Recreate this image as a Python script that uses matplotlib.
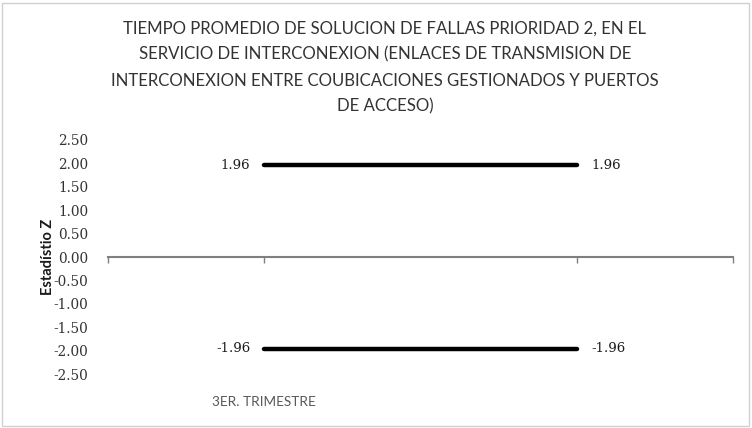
import matplotlib
matplotlib.use("Agg")
import matplotlib.pyplot as plt
from matplotlib.patches import Rectangle

categories = ["3ER. TRIMESTRE", ""]
upper_limit = [1.96, 1.96]
lower_limit = [-1.96, -1.96]
yticks = [2.5, 2.0, 1.5, 1.0, 0.5, 0.0, -0.5, -1.0, -1.5, -2.0, -2.5]

title = ("TIEMPO PROMEDIO DE SOLUCION DE FALLAS PRIORIDAD 2, EN EL\n"
         "SERVICIO DE INTERCONEXION (ENLACES DE TRANSMISION DE\n"
         "INTERCONEXION ENTRE COUBICACIONES GESTIONADOS Y PUERTOS\n"
         "DE ACCESO)")

fig = plt.figure(figsize=(7.52, 4.28), dpi=100)
ax = fig.add_axes([0.1436, 0.126, 0.8314, 0.547])
x = list(range(len(categories)))

ax.plot(x, upper_limit, color="black", lw=3.2, solid_capstyle="round")
ax.plot(x, lower_limit, color="black", lw=3.2, solid_capstyle="round")

serif = "DejaVu Serif"
for series in (upper_limit, lower_limit):
    for xi, v in zip(x, series):
        if xi == 0:
            ax.text(xi - 0.045, v, f"{v:.2f}", ha="right", va="center", fontsize=9.5, family=serif, color="#1a1a1a")
        else:
            ax.text(xi + 0.045, v, f"{v:.2f}", ha="left", va="center", fontsize=9.5, family=serif, color="#1a1a1a")

ax.set_xlim(-0.5, len(categories) - 0.5)
ax.set_ylim(-2.5, 2.5)
ax.set_yticks(yticks)
ax.set_yticklabels([f"{t:.2f}" for t in yticks], family=serif, fontsize=9.8, color="#333333")
ax.tick_params(axis="y", length=0, pad=14)

for s in ["top", "right", "left"]:
    ax.spines[s].set_visible(False)
ax.spines["bottom"].set_position(("data", 0))
ax.spines["bottom"].set_color("#7f7f7f")
ax.spines["bottom"].set_linewidth(1.5)
ax.set_xticks([-0.5, 0, 1, 1.5])
ax.set_xticklabels([])
ax.tick_params(axis="x", length=4, width=1, color="#7f7f7f", direction="out")

for xi, c in zip(x, categories):
    ax.text(xi, -0.12, c, transform=ax.get_xaxis_transform(), ha="center", va="center",
            fontsize=9.8, family="Lato", color="#595959")

ax.set_ylabel("Estadístio Z", family="Lato", fontweight="bold", fontsize=10.5, color="#1a1a1a", labelpad=-1)

fig.text(0.512, 0.952, title, ha="center", va="top", fontsize=12.1, family="Lato",
         color="#333333", linespacing=1.76)

fig.patches.append(Rectangle((0.002, 0.004), 0.994, 0.99, transform=fig.transFigure,
                             fill=False, edgecolor="#d0d0d0", lw=1))

fig.savefig("out.png", dpi=100)
